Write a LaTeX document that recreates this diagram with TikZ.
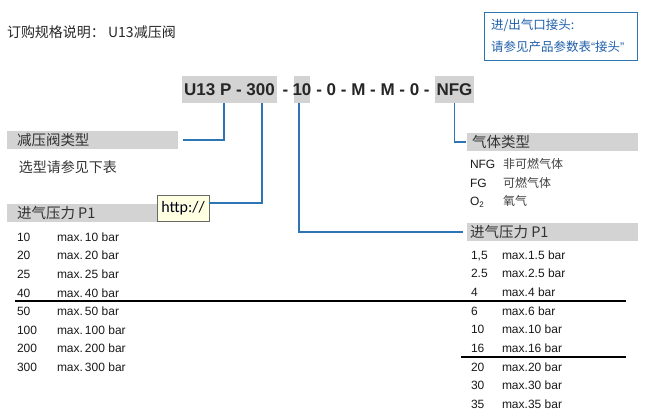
\documentclass[tikz,border=0pt]{standalone}
\usepackage{fontspec}
\setmainfont{Liberation Sans}
\newfontfamily\cjk{Noto Sans CJK SC}
\newfontfamily\calib{Carlito}
\definecolor{barg}{RGB}{211,211,212}
\definecolor{lnblue}{RGB}{46,117,182}
\definecolor{txblue}{RGB}{31,95,170}
\definecolor{tipbg}{RGB}{255,255,225}
\definecolor{tipbd}{RGB}{105,105,105}
\begin{document}
\begin{tikzpicture}[x=1pt,y=-1pt,
  every node/.style={inner sep=0pt, outer sep=0pt},
  barbox/.style={fill=barg, minimum width=171pt, minimum height=18pt, anchor=north west},
  codebox/.style={fill=barg, minimum height=27pt, anchor=north west},
  bartext/.style={anchor=west, text=black!80, font=\cjk\fontsize{14.5}{16}\selectfont},
  codetext/.style={anchor=base, text=black!85, font=\bfseries\fontsize{17}{19}\selectfont},
  tab/.style={anchor=base west, text=black!90, font=\fontsize{12}{14}\selectfont},
  gas/.style={anchor=base west, text=black!75, font=\cjk\fontsize{12}{14}\selectfont},
  tiptext/.style={anchor=west, text=txblue, font=\cjk\fontsize{12.5}{14}\selectfont},
  conn/.style={draw=lnblue, line width=1.2pt},
  sepline/.style={draw=black, line width=1.5pt}]
\useasboundingbox (0,0) rectangle (657,419);

% title
\node[anchor=west, text=black!85, font=\cjk\fontsize{14}{16}\selectfont] (title) at (7,32) {订购规格说明： U13减压阀};

% blue note box
\node[draw=lnblue, line width=1pt, fill=white, minimum width=153pt, minimum height=48pt, anchor=north west] (tip) at (484,13) {};
\node[tiptext] (tip1) at (491,25) {进/出气口接头:};
\node[tiptext] (tip2) at (491,47) {请参见产品参数表{\rmfamily“}接头{\rmfamily”}};

% code line
\node[codebox, minimum width=95pt] (cb1) at (182,76) {};
\node[codebox, minimum width=16pt] (cb2) at (294,76) {};
\node[codebox, minimum width=39pt] (cb3) at (435,76) {};
\node[codetext] (ct1) at (229.5,96) {U13 P - 300};
\node[codetext] (ct2) at (285.5,96) {-};
\node[codetext] (ct3) at (302,96) {10};
\node[codetext] (ct4) at (373,96) {- 0 - M - M - 0 -};
\node[codetext] (ct5) at (454.5,96) {NFG};

% left bars
\node[barbox] (bar1) at (7,131) {};
\node[bartext] (bar1t) at (17,140) {减压阀类型};
\node[anchor=west, text=black!80, font=\cjk\fontsize{14}{16}\selectfont] (sel) at (19,167) {选型请参见下表};
\node[barbox] (bar2) at (7,204) {};
\node[bartext] (bar2t) at (17,213) {进气压力 P1};

% right bars
\node[barbox] (rbar1) at (467,133) {};
\node[bartext] (rbar1t) at (472,142) {气体类型};
\node[barbox] (rbar2) at (467,223) {};
\node[bartext] (rbar2t) at (470,232) {进气压力 P1};

% connectors
\draw[conn] ([xshift=-5.5pt]cb1.south) |- ([xshift=5pt]bar1.east);
\draw[conn] ([xshift=-3pt]cb2.south) |- ([xshift=-4pt]rbar2.west);
\draw[conn] (cb3.south) |- ([xshift=-1pt]rbar1.west);

% http tooltip
\node[draw=tipbd, line width=0.8pt, fill=tipbg, minimum width=52pt, minimum height=26pt, anchor=north west] (http) at (157,195) {};
\node[text=black!90!blue, font=\calib\fontsize{16}{18}\selectfont] (httpt) at (http.center) {http://};
\draw[conn] ([xshift=32.5pt]cb1.south) |- ([yshift=5pt]http.east);

% gas types
\node[tab] (g1a) at (470,168.5) {NFG};
\node[gas] (g1b) at (503,168.5) {非可燃气体};
\node[tab] (g2a) at (470,187.5) {FG};
\node[gas] (g2b) at (503,187.5) {可燃气体};
\node[tab] (g3a) at (470,205.5) {O\textsubscript{2}};
\node[gas] (g3b) at (503,205.5) {氧气};

% left table
\foreach \n [count=\i] in {10,20,25,40,50,100,200,300}{
  \node[tab] (ln\i) at (17,{241.3+(\i-1)*18.57}) {\n};
  \node[tab] (lm\i) at (57,{241.3+(\i-1)*18.57}) {max.\,\n\ bar};
}
% right table
\foreach \n/\m [count=\i] in {{1,5}/1.5,2.5/2.5,4/4,6/6,10/10,16/16,20/20,30/30,35/35}{
  \node[tab] (rn\i) at (471,{259.3+(\i-1)*18.63}) {\n};
  \node[tab] (rm\i) at (502,{259.3+(\i-1)*18.63}) {max.\m\ bar};
}

% separator lines
\draw[sepline] (15,301) -- (626,301);
\draw[sepline] (461,357) -- (626,357);
\end{tikzpicture}
\end{document}
